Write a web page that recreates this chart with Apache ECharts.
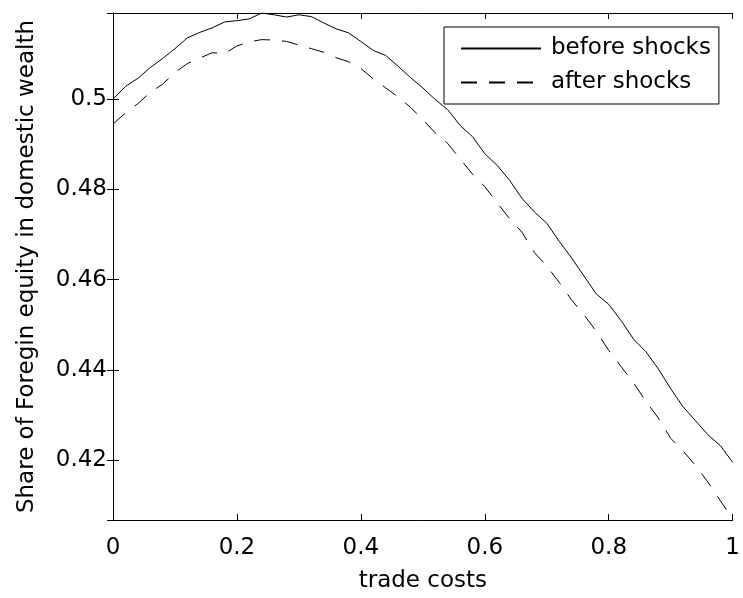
<!DOCTYPE html>
<html>
<head>
<meta charset="utf-8">
<script src="https://cdn.jsdelivr.net/npm/echarts@6/dist/echarts.min.js"></script>
<style>
  html, body { margin: 0; padding: 0; background: #fff; }
  #chart { width: 743px; height: 598px; }
</style>
</head>
<body>
<div id="chart"></div>
<script>
// trade costs (x axis)
var tradeCosts = [0, 0.02, 0.04, 0.06, 0.08, 0.1, 0.12, 0.14, 0.16, 0.18,
    0.2, 0.22, 0.24, 0.26, 0.28, 0.3, 0.32, 0.34, 0.36, 0.38,
    0.4, 0.42, 0.44, 0.46, 0.48, 0.5, 0.52, 0.54, 0.56, 0.58,
    0.6, 0.62, 0.64, 0.66, 0.68, 0.7, 0.72, 0.74, 0.76, 0.78,
    0.8, 0.82, 0.84, 0.86, 0.88, 0.9, 0.92, 0.94, 0.96, 0.98, 1];

// share of foreign equity, before shocks
var beforeShocks = [0.5000, 0.5028, 0.5046, 0.5070, 0.5090, 0.5112, 0.5136, 0.5148, 0.5158, 0.5171,
    0.5174, 0.5178, 0.5191, 0.5187, 0.5182, 0.5187, 0.5183, 0.5169, 0.5156, 0.5147,
    0.5128, 0.5108, 0.5097, 0.5073, 0.5048, 0.5025, 0.4999, 0.4977, 0.4942, 0.4917,
    0.4879, 0.4853, 0.4820, 0.4780, 0.4750, 0.4725, 0.4685, 0.4648, 0.4608, 0.4568,
    0.4545, 0.4509, 0.4468, 0.4440, 0.4402, 0.4358, 0.4318, 0.4287, 0.4256, 0.4232, 0.4195];

// after shocks
var afterShocks = [0.4945, 0.4969, 0.4990, 0.5015, 0.5033, 0.5059, 0.5079, 0.5091, 0.5103, 0.5101,
    0.5118, 0.5127, 0.5132, 0.5131, 0.5128, 0.5120, 0.5112, 0.5104, 0.5092, 0.5083,
    0.5068, 0.5045, 0.5025, 0.5005, 0.4982, 0.4955, 0.4925, 0.4902, 0.4868, 0.4834,
    0.4806, 0.4770, 0.4735, 0.4705, 0.4660, 0.4630, 0.4594, 0.4555, 0.4522, 0.4485,
    0.4443, 0.4407, 0.4371, 0.4330, 0.4293, 0.4248, 0.4220, 0.4188, 0.4151, 0.4110, 0.4069];

var yMin = 0.4067, yMax = 0.5191;
var fontName = 'DejaVu Sans';

function pairs(xs, ys) {
    var out = [];
    for (var i = 0; i < xs.length; i++) out.push([xs[i], ys[i]]);
    return out;
}

function yLabel(v) {
    // only the 0.02 grid gets a label
    if (Math.abs(v * 50 - Math.round(v * 50)) > 1e-6) return '';
    return String(+v.toFixed(2));
}

var myChart = echarts.init(document.getElementById('chart'));
var option = {
    animation: false,
    backgroundColor: '#fff',
    textStyle: { fontFamily: fontName, color: '#000' },
    grid: { left: 113, right: 8, top: 13, bottom: 74 },
    legend: {
        orient: 'vertical',
        left: 444,
        top: 27,
        width: 279,
        itemWidth: 80,
        itemHeight: 23,
        itemGap: 11,
        padding: [10, 8, 10, 16],
        borderColor: '#000',
        borderWidth: 1,
        backgroundColor: '#fff',
        itemStyle: { opacity: 0 },
        textStyle: { fontFamily: fontName, fontSize: 23, color: '#000', padding: [0, 0, 0, 5] },
        data: ['before shocks', 'after shocks']
    },
    xAxis: [
        {
            type: 'value',
            min: 0,
            max: 1,
            interval: 0.2,
            name: 'trade costs',
            nameLocation: 'middle',
            nameGap: 50,
            nameTextStyle: { fontFamily: fontName, fontSize: 23, color: '#000' },
            axisLine: { lineStyle: { color: '#000', width: 1 } },
            axisTick: { inside: true, length: 6, lineStyle: { color: '#000' } },
            axisLabel: { fontFamily: fontName, fontSize: 23, color: '#000', margin: 17 },
            splitLine: { show: false }
        },
        {
            type: 'value',
            position: 'top',
            min: 0,
            max: 1,
            interval: 0.2,
            axisLine: { lineStyle: { color: '#000', width: 1 } },
            axisTick: { inside: true, length: 6, lineStyle: { color: '#000' } },
            axisLabel: { show: false },
            splitLine: { show: false }
        }
    ],
    yAxis: [
        {
            type: 'value',
            min: yMin,
            max: yMax,
            name: 'Share of Foregin equity in domestic wealth',
            nameLocation: 'middle',
            nameGap: 74,
            nameTextStyle: { fontFamily: fontName, fontSize: 23, color: '#000' },
            axisLine: { show: true, lineStyle: { color: '#000', width: 1 } },
            axisTick: { inside: true, length: 6, lineStyle: { color: '#000' } },
            axisLabel: { fontFamily: fontName, fontSize: 23, color: '#000', margin: 6, formatter: yLabel },
            splitLine: { show: false }
        },
        {
            type: 'value',
            position: 'right',
            min: yMin,
            max: yMax,
            axisLine: { show: true, lineStyle: { color: '#000', width: 1 } },
            axisTick: { show: true, inside: true, length: 6, lineStyle: { color: '#000' } },
            axisLabel: { show: false },
            splitLine: { show: false }
        }
    ],
    series: [
        {
            name: 'before shocks',
            type: 'line',
            symbol: 'none',
            data: pairs(tradeCosts, beforeShocks),
            lineStyle: { color: '#000', width: 1, type: 'solid' },
            itemStyle: { color: '#000' }
        },
        {
            name: 'after shocks',
            type: 'line',
            symbol: 'none',
            data: pairs(tradeCosts, afterShocks),
            lineStyle: { color: '#000', width: 1, type: [16, 12] },
            itemStyle: { color: '#000' }
        }
    ]
};
myChart.setOption(option);
</script>
</body>
</html>
